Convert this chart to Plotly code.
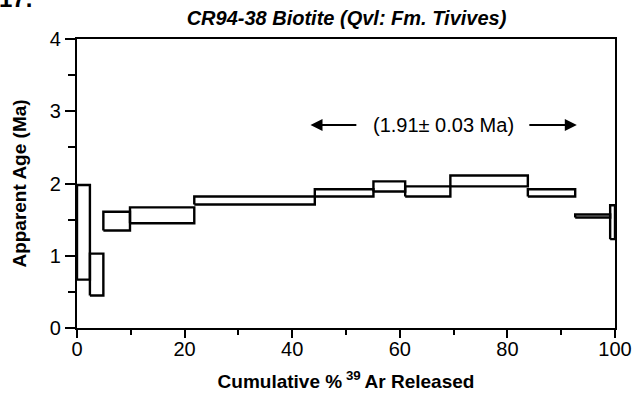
import plotly.graph_objects as go

# Data (cumulative % 39Ar step edges and age envelope)
cum_pct = [0, 2.4, 4.9, 9.85, 21.8, 44.2, 55.1, 61.0, 69.4, 83.8, 92.6, 99.1, 100]
age_top = [1.98, 1.03, 1.61, 1.67, 1.82, 1.92, 2.03, 1.96, 2.11, 1.92, 1.57, 1.70]
age_bot = [0.67, 0.45, 1.35, 1.45, 1.71, 1.82, 1.89, 1.82, 1.96, 1.82, 1.53, 1.23]

plateau_label = "(1.91\u00b1 0.03 Ma)"
plateau_from, plateau_to = 43.4, 92.9
arrow_tail_left, arrow_tail_right = 52.2, 83.8
plateau_y = 2.81

x_ticks = [0, 20, 40, 60, 80, 100]
x_minor = [10, 30, 50, 70, 90]
y_ticks = [0, 1, 2, 3, 4]
y_minor = [0.5, 1.5, 2.5, 3.5]

FONT = "Liberation Sans, Arial, sans-serif"

xs, ys = [], []
for i in range(len(age_top)):
    x0, x1 = cum_pct[i], cum_pct[i + 1]
    t, b = age_top[i], age_bot[i]
    xs += [x0, x1, x1, x0, x0, None]
    ys += [b, b, t, t, b, None]

fig = go.Figure()
fig.add_trace(go.Scatter(x=xs, y=ys, mode="lines",
                         line=dict(color="black", width=2.4),
                         showlegend=False, hoverinfo="skip"))

fig.update_layout(
    width=637, height=398,
    margin=dict(l=77, r=22, t=39, b=70),
    paper_bgcolor="white", plot_bgcolor="white",
    font=dict(family=FONT, color="black", size=20),
    title=dict(text="<b><i>CR94-38 Biotite (Qvl: Fm. Tivives)</i></b>",
               x=346.5 / 637, xanchor="center", y=1 - 18 / 398, yanchor="middle",
               font=dict(size=20, family=FONT)),
)

fig.update_xaxes(range=[0, 100], tickvals=x_ticks, ticks="outside", ticklen=8,
                 tickwidth=2, tickcolor="black", showline=True, linewidth=2.4,
                 linecolor="black", mirror=True, showgrid=False, zeroline=False,
                 tickfont=dict(size=20), automargin=False, ticklabelstandoff=-6,
                 minor=dict(tickvals=x_minor, ticks="outside",
                            ticklen=5, tickwidth=2, tickcolor="black"),
                 title=dict(text="<b>Cumulative %\u2009<sup>39</sup>\u2009Ar Released</b>",
                            font=dict(size=19), standoff=15))
fig.update_yaxes(range=[0, 4], tickvals=y_ticks, ticks="outside", ticklen=10,
                 tickwidth=2, tickcolor="black", showline=True, linewidth=2.4,
                 linecolor="black", mirror=True, showgrid=False, zeroline=False,
                 tickfont=dict(size=20), automargin=False,
                 minor=dict(tickvals=y_minor, ticks="outside",
                            ticklen=7, tickwidth=2, tickcolor="black"),
                 title=dict(text="<b>Apparent Age (Ma)</b>", font=dict(size=19),
                            standoff=18))

mid = (plateau_from + plateau_to) / 2
fig.add_annotation(x=mid, y=plateau_y, text=plateau_label, showarrow=False,
                   font=dict(size=20), xref="x", yref="y")
fig.add_annotation(x=plateau_from, y=plateau_y, ax=arrow_tail_left, ay=plateau_y,
                   xref="x", yref="y", axref="x", ayref="y", text="",
                   showarrow=True, arrowhead=2, arrowsize=1.2, arrowwidth=2,
                   arrowcolor="black")
fig.add_annotation(x=plateau_to, y=plateau_y, ax=arrow_tail_right, ay=plateau_y,
                   xref="x", yref="y", axref="x", ayref="y", text="",
                   showarrow=True, arrowhead=2, arrowsize=1.2, arrowwidth=2,
                   arrowcolor="black")

fig.add_annotation(x=-0.148, y=1.088, xref="paper", yref="paper", text="<b>17.</b>",
                   showarrow=False, xanchor="left", yanchor="bottom",
                   font=dict(size=24))

fig.write_html("out.html")
